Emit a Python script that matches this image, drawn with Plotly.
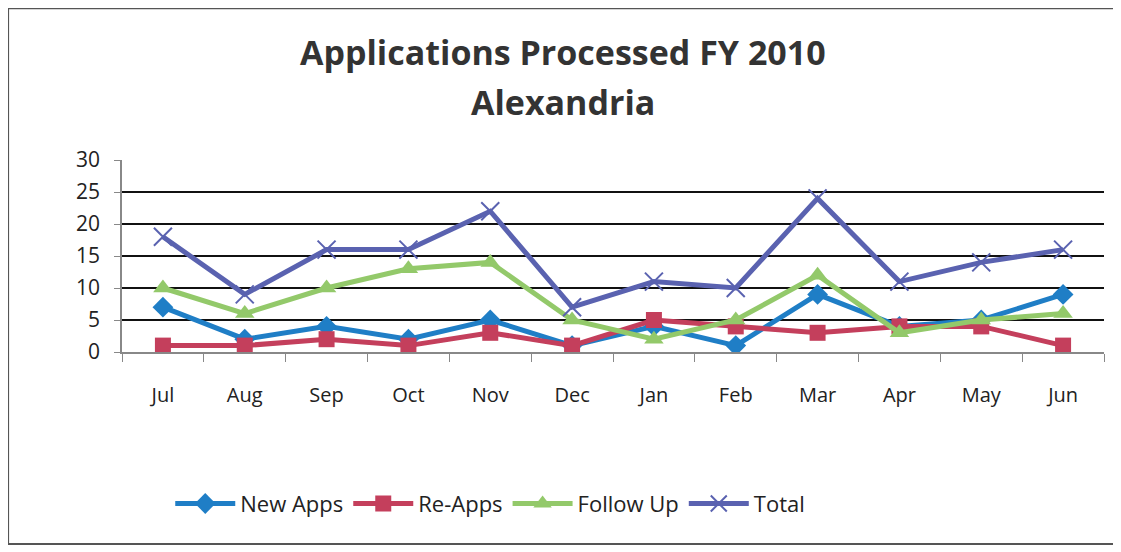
import plotly.graph_objects as go

months = ["Jul", "Aug", "Sep", "Oct", "Nov", "Dec", "Jan", "Feb", "Mar", "Apr", "May", "Jun"]
new_apps = [7, 2, 4, 2, 5, 1, 4, 1, 9, 4, 5, 9]
re_apps = [1, 1, 2, 1, 3, 1, 5, 4, 3, 4, 4, 1]
follow_up = [10, 6, 10, 13, 14, 5, 2, 5, 12, 3, 5, 6]
total = [18, 9, 16, 16, 22, 7, 11, 10, 24, 11, 14, 16]
y_ticks = [0, 5, 10, 15, 20, 25, 30]

FONT = "Open Sans"

fig = go.Figure()
fig.add_trace(go.Scatter(x=months, y=new_apps, name="New Apps", mode="lines+markers",
                         line=dict(color="#1F7EC6", width=5),
                         marker=dict(symbol="diamond", size=16, color="#1F7EC6")))
fig.add_trace(go.Scatter(x=months, y=re_apps, name="Re-Apps", mode="lines+markers",
                         line=dict(color="#C43F5C", width=5),
                         marker=dict(symbol="square", size=16, color="#C43F5C")))
fig.add_trace(go.Scatter(x=months, y=follow_up, name="Follow Up", mode="lines+markers",
                         line=dict(color="#93C96A", width=5),
                         marker=dict(symbol="triangle-up", size=17, color="#93C96A")))
fig.add_trace(go.Scatter(x=months, y=total, name="Total", mode="lines+markers",
                         line=dict(color="#5A62B0", width=5),
                         marker=dict(symbol="x-thin", size=18, color="#5A62B0",
                                     line=dict(color="#5A62B0", width=2))))

fig.update_layout(
    width=1121, height=552,
    margin=dict(l=114, r=25, t=152, b=208),
    paper_bgcolor="white", plot_bgcolor="white",
    font=dict(family=FONT, size=19, color="#222222"),
    showlegend=True,
    legend=dict(orientation="h", x=0.375, xanchor="center", y=-0.79, yanchor="middle",
                font=dict(family=FONT, size=22, color="#222222"),
                itemwidth=60, traceorder="normal"),
    annotations=[
        dict(text="<b>Applications Processed FY 2010</b>", xref="paper", yref="paper",
             x=0.449, y=1.5625, xanchor="center", yanchor="middle", showarrow=False,
             font=dict(family=FONT, size=34, color="#333333")),
        dict(text="<b>Alexandria</b>", xref="paper", yref="paper",
             x=0.449, y=1.302, xanchor="center", yanchor="middle", showarrow=False,
             font=dict(family=FONT, size=34, color="#333333")),
    ],
    shapes=[dict(type="rect", xref="paper", yref="paper", x0=-0.116, x1=1.011,
                 y0=-1.0, y1=1.79, line=dict(color="#555555", width=2))],
)
fig.update_xaxes(type="category", categoryorder="array", categoryarray=months,
                 range=[-0.5, 11.5], showline=True, linecolor="#888888", linewidth=1.5,
                 ticks="outside", tickson="boundaries", ticklen=8, tickcolor="#888888",
                 showgrid=False, tickfont=dict(size=20), ticklabelstandoff=24)
fig.update_yaxes(range=[0, 30], tickvals=y_ticks, showline=True, linecolor="#888888",
                 linewidth=1.5, ticks="outside", ticklen=6, tickcolor="#888888",
                 showgrid=True, gridcolor="#111111", gridwidth=1.5, zeroline=False,
                 tickfont=dict(size=21), ticklabelstandoff=10)

fig.write_html("out.html")
